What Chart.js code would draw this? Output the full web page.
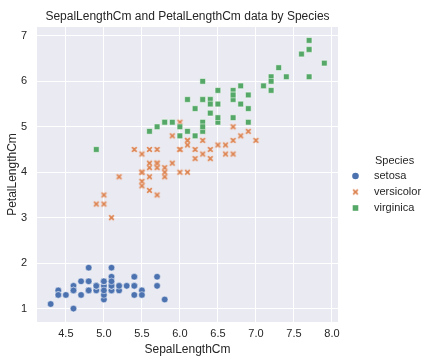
<!DOCTYPE html>
<html>
<head>
<meta charset="utf-8">
<script src="https://cdn.jsdelivr.net/npm/chart.js@4/dist/chart.umd.min.js"></script>
<style>
  body { margin: 0; background: #fff; }
</style>
</head>
<body>
<canvas id="iris-chart" width="435" height="362"></canvas>
<script>
"use strict";

// Iris data, SepalLengthCm (x) against PetalLengthCm (y)
const speciesNames = ["setosa", "versicolor", "virginica"];

const setosaSepal = [5.1, 4.9, 4.7, 4.6, 5.0, 5.4, 4.6, 5.0, 4.4, 4.9, 5.4, 4.8, 4.8, 4.3, 5.8, 5.7, 5.4, 5.1, 5.7, 5.1,
  5.4, 5.1, 4.6, 5.1, 4.8, 5.0, 5.0, 5.2, 5.2, 4.7, 4.8, 5.4, 5.2, 5.5, 4.9, 5.0, 5.5, 4.9, 4.4, 5.1,
  5.0, 4.5, 4.4, 5.0, 5.1, 4.8, 5.1, 4.6, 5.3, 5.0];
const setosaPetal = [1.4, 1.4, 1.3, 1.5, 1.4, 1.7, 1.4, 1.5, 1.4, 1.5, 1.5, 1.6, 1.4, 1.1, 1.2, 1.5, 1.3, 1.4, 1.7, 1.5,
  1.7, 1.5, 1.0, 1.7, 1.9, 1.6, 1.6, 1.5, 1.4, 1.6, 1.6, 1.5, 1.5, 1.4, 1.5, 1.2, 1.3, 1.5, 1.3, 1.5,
  1.3, 1.3, 1.3, 1.6, 1.9, 1.4, 1.6, 1.4, 1.5, 1.4];

const versicolorSepal = [7.0, 6.4, 6.9, 5.5, 6.5, 5.7, 6.3, 4.9, 6.6, 5.2, 5.0, 5.9, 6.0, 6.1, 5.6, 6.7, 5.6, 5.8, 6.2, 5.6,
  5.9, 6.1, 6.3, 6.1, 6.4, 6.6, 6.8, 6.7, 6.0, 5.7, 5.5, 5.5, 5.8, 6.0, 5.4, 6.0, 6.7, 6.3, 5.6, 5.5,
  5.5, 6.1, 5.8, 5.0, 5.6, 5.7, 5.7, 6.2, 5.1, 5.7];
const versicolorPetal = [4.7, 4.5, 4.9, 4.0, 4.6, 4.5, 4.7, 3.3, 4.6, 3.9, 3.5, 4.2, 4.0, 4.7, 3.6, 4.4, 4.5, 4.1, 4.5, 3.9,
  4.8, 4.0, 4.9, 4.7, 4.3, 4.4, 4.8, 5.0, 4.5, 3.5, 3.8, 3.7, 3.9, 5.1, 4.5, 4.5, 4.7, 4.4, 4.1, 4.0,
  4.4, 4.6, 4.0, 3.3, 4.2, 4.2, 4.2, 4.3, 3.0, 4.1];

const virginicaSepal = [6.3, 5.8, 7.1, 6.3, 6.5, 7.6, 4.9, 7.3, 6.7, 7.2, 6.5, 6.4, 6.8, 5.7, 5.8, 6.4, 6.5, 7.7, 7.7, 6.0,
  6.9, 5.6, 7.7, 6.3, 6.7, 7.2, 6.2, 6.1, 6.4, 7.2, 7.4, 7.9, 6.4, 6.3, 6.1, 7.7, 6.3, 6.4, 6.0, 6.9,
  6.7, 6.9, 5.8, 6.8, 6.7, 6.7, 6.3, 6.5, 6.2, 5.9];
const virginicaPetal = [6.0, 5.1, 5.9, 5.6, 5.8, 6.6, 4.5, 6.3, 5.8, 6.1, 5.1, 5.3, 5.5, 5.0, 5.1, 5.3, 5.5, 6.7, 6.9, 5.0,
  5.7, 4.9, 6.7, 4.9, 5.7, 6.0, 4.8, 4.9, 5.6, 5.8, 6.1, 6.4, 5.6, 5.1, 5.6, 6.1, 5.6, 5.5, 4.8, 5.4,
  5.6, 5.1, 5.1, 5.9, 5.7, 5.2, 5.0, 5.2, 5.4, 5.1];

const xTickValues = [4.5, 5.0, 5.5, 6.0, 6.5, 7.0, 7.5, 8.0];
const yTickValues = [1, 2, 3, 4, 5, 6, 7];

const FONT = "'Liberation Sans', Arial, sans-serif";
const TEXT = "#262626";

function toPoints(xs, ys) {
  return xs.map((x, i) => ({ x: x, y: ys[i] }));
}

// filled "X" marker like matplotlib's
function makeXMarker(color) {
  const c = document.createElement("canvas");
  c.width = 9;
  c.height = 9;
  const g = c.getContext("2d");
  g.translate(4.5, 4.5);
  const a = 3.1, w = 1.4;
  g.beginPath();
  g.moveTo(-a, -a + w); g.lineTo(-a + w, -a); g.lineTo(0, -w);
  g.lineTo(a - w, -a); g.lineTo(a, -a + w); g.lineTo(w, 0);
  g.lineTo(a, a - w); g.lineTo(a - w, a); g.lineTo(0, w);
  g.lineTo(-a + w, a); g.lineTo(-a, a - w); g.lineTo(-w, 0);
  g.closePath();
  g.fillStyle = color;
  g.fill();
  g.strokeStyle = "rgba(255,255,255,0.7)";
  g.lineWidth = 0.4;
  g.stroke();
  return c;
}

const bgPlugin = {
  id: "seabornBg",
  beforeDraw(chart) {
    const { ctx, chartArea: a } = chart;
    ctx.save();
    ctx.fillStyle = "#EAEAF2";
    ctx.fillRect(a.left, a.top, a.right - a.left, a.bottom - a.top);
    ctx.restore();
  },
  afterDraw(chart) {
    const { ctx, chartArea: a } = chart;
    ctx.save();
    ctx.fillStyle = TEXT;
    ctx.font = "12px " + FONT;
    ctx.textAlign = "center";
    ctx.textBaseline = "middle";
    ctx.fillText("SepalLengthCm and PetalLengthCm data by Species", (a.left + a.right) / 2, 17);

    // legend
    ctx.font = "11px " + FONT;
    ctx.textAlign = "left";
    ctx.fillText("Species", 375, 161);
    chart.data.datasets.forEach((ds, i) => {
      const y = 176 + i * 16;
      const x = 355.5;
      if (ds.pointStyle === "circle") {
        ctx.beginPath();
        ctx.arc(x, y, 3.3, 0, Math.PI * 2);
        ctx.fillStyle = ds.backgroundColor;
        ctx.fill();
      } else if (ds.pointStyle === "rect") {
        ctx.fillStyle = ds.backgroundColor;
        ctx.fillRect(x - 2.8, y - 2.8, 5.6, 5.6);
      } else {
        ctx.drawImage(ds.pointStyle, x - 4.5, y - 4.5);
      }
      ctx.fillStyle = TEXT;
      ctx.fillText(ds.label, 374, y);
    });
    ctx.restore();
  }
};

new Chart(document.getElementById("iris-chart").getContext("2d"), {
  type: "scatter",
  data: {
    datasets: [
      {
        label: speciesNames[0],
        data: toPoints(setosaSepal, setosaPetal),
        pointStyle: "circle",
        backgroundColor: "#4C72B0",
        borderColor: "#ffffff",
        borderWidth: 0.5,
        pointRadius: 3.3,
        order: 3
      },
      {
        label: speciesNames[1],
        data: toPoints(versicolorSepal, versicolorPetal),
        pointStyle: makeXMarker("#DD8452"),
        backgroundColor: "#DD8452",
        pointRadius: 4,
        order: 2
      },
      {
        label: speciesNames[2],
        data: toPoints(virginicaSepal, virginicaPetal),
        pointStyle: "rect",
        backgroundColor: "#55A868",
        borderColor: "#ffffff",
        borderWidth: 0.5,
        pointRadius: 4,
        order: 1
      }
    ]
  },
  options: {
    responsive: false,
    animation: false,
    layout: { padding: { top: 27, right: 97, left: 0, bottom: 0 } },
    plugins: {
      legend: { display: false },
      tooltip: { enabled: false }
    },
    scales: {
      x: {
        type: "linear",
        min: 4.12,
        max: 8.08,
        afterBuildTicks: (s) => { s.ticks = xTickValues.map(v => ({ value: v })); },
        afterFit: (s) => { s.height = 40; },
        grid: { color: "#ffffff", lineWidth: 1, drawTicks: false },
        border: { display: false },
        ticks: {
          padding: 5,
          color: TEXT,
          font: { family: FONT, size: 11 },
          callback: (v) => v.toFixed(1)
        },
        title: {
          display: true,
          text: "SepalLengthCm",
          color: TEXT,
          font: { family: FONT, size: 12 },
          padding: { top: 5, bottom: 5 }
        }
      },
      y: {
        type: "linear",
        min: 0.705,
        max: 7.195,
        afterBuildTicks: (s) => { s.ticks = yTickValues.map(v => ({ value: v })); },
        afterFit: (s) => { s.width = 37; },
        grid: { color: "#ffffff", lineWidth: 1, drawTicks: false },
        border: { display: false },
        ticks: {
          padding: 10,
          color: TEXT,
          font: { family: FONT, size: 11 },
          callback: (v) => String(v)
        },
        title: {
          display: true,
          text: "PetalLengthCm",
          color: TEXT,
          font: { family: FONT, size: 12 },
          padding: { top: 5, bottom: 5 }
        }
      }
    }
  },
  plugins: [bgPlugin]
});
</script>
</body>
</html>
